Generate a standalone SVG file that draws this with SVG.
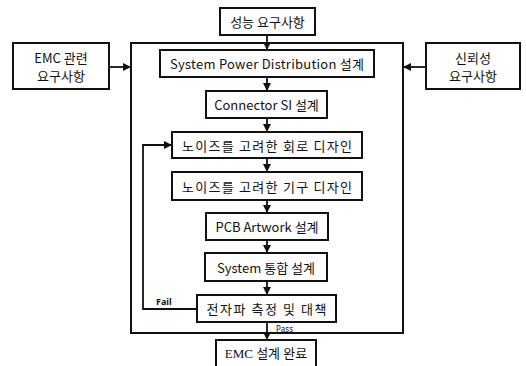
<svg xmlns="http://www.w3.org/2000/svg" width="526" height="366" viewBox="0 0 526 366">
  <defs>
    <style>
      .box { fill: #ffffff; stroke: #111111; stroke-width: 2; }
      .frame { fill: none; stroke: #111111; stroke-width: 2; }
      .line { fill: none; stroke: #111111; stroke-width: 1.8; }
      .t { font-family: "Noto Sans CJK KR", "Noto Sans", sans-serif; font-size: 13px; fill: #111111; text-anchor: middle; dominant-baseline: central; }
      .s { font-family: "Noto Sans", "Liberation Sans", sans-serif; font-size: 9px; font-weight: bold; fill: #111111; }
    </style>
    <marker id="arrow" viewBox="0 0 10 10" refX="10" refY="5" markerWidth="4.6" markerHeight="4.6" markerUnits="strokeWidth" orient="auto">
      <path d="M0,0 L10,5 L0,10 z" fill="#111111"/>
    </marker>
  </defs>

  <rect width="526" height="366" fill="#ffffff"/>

  <!-- enclosing design-flow frame -->
  <rect id="frame" class="frame" x="131" y="43" width="272" height="290"/>

  <g id="connectors">
    <!-- requirements into the design flow -->
    <line class="line" x1="267" y1="35" x2="267" y2="50" marker-end="url(#arrow)"/>
    <line class="line" x1="109" y1="67" x2="131" y2="67" marker-end="url(#arrow)"/>
    <line class="line" x1="426" y1="67" x2="403" y2="67" marker-end="url(#arrow)"/>
    <!-- main chain -->
    <line class="line" x1="267" y1="77" x2="267" y2="91" marker-end="url(#arrow)"/>
    <line class="line" x1="267" y1="118" x2="267" y2="132" marker-end="url(#arrow)"/>
    <line class="line" x1="267" y1="158" x2="267" y2="172" marker-end="url(#arrow)"/>
    <line class="line" x1="267" y1="200" x2="267" y2="213" marker-end="url(#arrow)"/>
    <line class="line" x1="267" y1="240" x2="267" y2="253" marker-end="url(#arrow)"/>
    <line class="line" x1="267" y1="281" x2="267" y2="295" marker-end="url(#arrow)"/>
    <!-- pass: to completion -->
    <line class="line" x1="267" y1="322" x2="267" y2="340" marker-end="url(#arrow)"/>
    <text class="s" x="276" y="332" style="font-weight: normal; font-size: 8px;">Pass</text>
    <!-- fail: loop back to circuit design -->
    <polyline class="line" points="197,309 143,309 143,145 172,145" marker-end="url(#arrow)"/>
    <text class="s" x="156" y="305">Fail</text>
  </g>

  <g id="req-performance">
    <rect class="box" x="220" y="8" width="95" height="27"/>
    <text class="t" x="267.5" y="21.5">성능 요구사항</text>
  </g>

  <g id="req-emc">
    <rect class="box" x="13" y="43" width="96" height="46"/>
    <text class="t" x="61" y="57">EMC 관련</text>
    <text class="t" x="61" y="75">요구사항</text>
  </g>

  <g id="req-reliability">
    <rect class="box" x="426" y="43" width="94" height="46"/>
    <text class="t" x="473" y="57">신뢰성</text>
    <text class="t" x="473" y="75">요구사항</text>
  </g>

  <g id="power-distribution">
    <rect class="box" x="160" y="50" width="214" height="27"/>
    <text class="t" x="267" y="63.5" textLength="194" lengthAdjust="spacing">System Power Distribution 설계</text>
  </g>

  <g id="connector-si">
    <rect class="box" x="206" y="91" width="121" height="27"/>
    <text class="t" x="266.5" y="104.5">Connector SI 설계</text>
  </g>

  <g id="circuit-design">
    <rect class="box" x="172" y="132" width="190" height="26"/>
    <text class="t" x="267" y="145" textLength="170" lengthAdjust="spacing">노이즈를 고려한 회로 디자인</text>
  </g>

  <g id="mechanical-design">
    <rect class="box" x="172" y="172" width="190" height="28"/>
    <text class="t" x="267" y="186" textLength="170" lengthAdjust="spacing">노이즈를 고려한 기구 디자인</text>
  </g>

  <g id="pcb-artwork">
    <rect class="box" x="206" y="213" width="122" height="27"/>
    <text class="t" x="267" y="226.5">PCB Artwork 설계</text>
  </g>

  <g id="system-integration">
    <rect class="box" x="205" y="253" width="122" height="28"/>
    <text class="t" x="266" y="267">System 통합 설계</text>
  </g>

  <g id="emi-test">
    <rect class="box" x="197" y="295" width="139" height="27"/>
    <text class="t" x="266.5" y="308.5" textLength="120" lengthAdjust="spacing">전자파 측정 및 대책</text>
  </g>

  <g id="emc-done">
    <rect class="box" x="216" y="340" width="100" height="30"/>
    <text class="t" x="266" y="353" style="font-family: 'Liberation Serif', 'Noto Sans CJK KR', serif;">EMC 설계 완료</text>
  </g>
</svg>
